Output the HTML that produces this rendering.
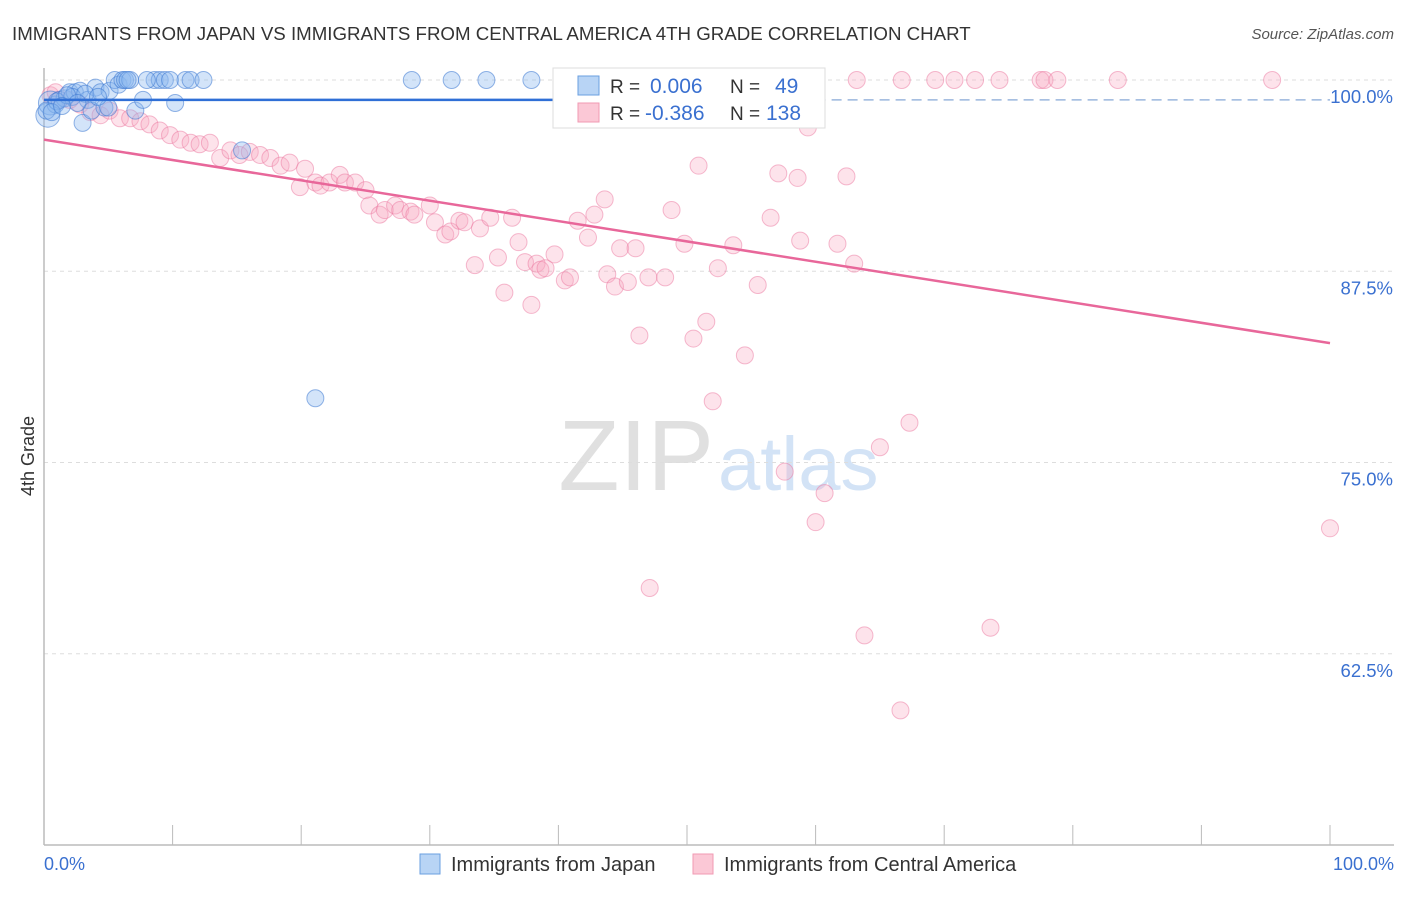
<!DOCTYPE html>
<html><head><meta charset="utf-8">
<style>
body{margin:0;background:#fff;font-family:"Liberation Sans",sans-serif;}
svg text{font-family:"Liberation Sans",sans-serif;}
</style></head>
<body>
<svg width="1406" height="892" xmlns="http://www.w3.org/2000/svg">
<text x="12" y="40" font-size="18.7" fill="#333">IMMIGRANTS FROM JAPAN VS IMMIGRANTS FROM CENTRAL AMERICA 4TH GRADE CORRELATION CHART</text>
<text x="1394" y="39" font-size="15" fill="#555" font-style="italic" text-anchor="end">Source: ZipAtlas.com</text>
<text x="714" y="490" font-size="100" fill="#e0e0e0" text-anchor="end" font-family="Liberation Serif">ZIP</text>
<text x="718" y="490" font-size="76" fill="#d3e3f6">atlas</text>
<g id="grid"></g>
<g id="axes"></g>
<g id="pts"></g>
<g id="lines"></g>
<text x="34" y="456" font-size="18" fill="#333" text-anchor="middle" transform="rotate(-90 34 456)">4th Grade</text>
<g>
<rect x="553" y="68" width="272" height="60" fill="#fff" stroke="#ddd"/>
<rect x="578" y="76" width="21" height="19" fill="#b8d4f5" stroke="#6a9fe0"/>
<rect x="578" y="103" width="21" height="19" fill="#fbc8d6" stroke="#f09ab3"/>
<text x="610" y="93" font-size="19" fill="#333">R =</text>
<text x="650" y="93" font-size="21" fill="#3a70d0">0.006</text>
<text x="730" y="93" font-size="19" fill="#333">N =</text>
<text x="775" y="93" font-size="21" fill="#3a70d0">49</text>
<text x="610" y="120" font-size="19" fill="#333">R =</text>
<text x="645" y="120" font-size="21" fill="#3a70d0">-0.386</text>
<text x="730" y="120" font-size="19" fill="#333">N =</text>
<text x="766" y="120" font-size="21" fill="#3a70d0">138</text>
</g>
<g>
<rect x="420" y="854" width="20" height="20" fill="#b8d4f5" stroke="#6a9fe0"/>
<text x="451" y="871" font-size="20" fill="#333">Immigrants from Japan</text>
<rect x="693" y="854" width="20" height="20" fill="#fbc8d6" stroke="#f09ab3"/>
<text x="724" y="871" font-size="20" fill="#333">Immigrants from Central America</text>
</g>
<script>
const yTicks=[100,87.5,75,62.5];
const yTickLabels=["100.0%","87.5%","75.0%","62.5%"];
const xLabels=["0.0%","100.0%"];
const japanX=[0.3,0.5,0.9,1.2,1.6,2.0,2.4,2.8,3.0,3.4,3.7,4.0,4.4,4.7,5.0,5.1,5.5,5.8,6.1,6.3,6.7,7.1,7.7,8.6,9.0,9.4,9.8,10.2,11.0,11.4,12.4,15.4,21.1,28.6,31.7,34.4,37.9,53.0,0.2,1.0,2.2,1.8,0.6,3.2,4.2,6.5,2.6,1.4,8.0];
const japanY=[97.7,98.5,98.4,98.7,98.8,99.2,99.2,99.3,97.2,98.7,98.0,99.5,99.2,98.2,98.2,99.3,100,99.7,100,100,100,98.0,98.7,100,100,100,100,98.5,100,100,100,95.4,79.2,100,100,100,100,100,98.0,98.6,98.9,99.0,97.9,99.1,98.9,100,98.5,98.3,100];
const caX=[0.5,0.9,1.2,2.0,2.8,3.6,4.4,5.1,5.9,6.7,7.5,8.2,9.0,9.8,10.6,11.4,12.1,12.9,13.7,14.5,15.2,16.0,16.8,17.6,18.4,19.1,19.9,20.3,21.1,21.5,22.2,23.0,23.4,24.2,25.0,25.3,26.1,26.5,27.3,27.7,28.5,28.8,30.0,30.4,31.2,31.6,32.3,32.7,33.5,33.9,34.7,35.3,35.8,36.4,36.9,37.4,37.9,38.3,38.6,39.0,39.7,40.5,40.9,41.5,42.3,42.8,43.6,43.8,44.4,44.8,45.4,46.0,46.3,47.0,47.1,48.3,48.8,49.8,50.5,50.9,51.5,52.0,52.4,53.6,54.5,55.5,56.5,57.1,57.6,58.6,58.8,59.4,60.0,60.7,61.7,62.4,63.0,63.8,65.0,66.6,67.3,73.6,100,47.7,50.2,63.2,66.7,69.3,70.8,72.4,74.3,77.5,77.8,78.8,83.5,95.5];
const caY=[99.0,99.2,98.7,98.7,98.4,97.9,97.7,98.0,97.5,97.5,97.3,97.1,96.7,96.4,96.1,95.9,95.8,95.9,94.9,95.4,95.1,95.3,95.1,94.9,94.4,94.6,93.0,94.2,93.3,93.1,93.3,93.8,93.3,93.3,92.8,91.8,91.2,91.5,91.8,91.5,91.4,91.2,91.8,90.7,89.9,90.1,90.8,90.7,87.9,90.3,91.0,88.4,86.1,91.0,89.4,88.1,85.3,88.0,87.6,87.7,88.6,86.9,87.1,90.8,89.7,91.2,92.2,87.3,86.5,89.0,86.8,89.0,83.3,87.1,66.8,87.1,91.5,89.3,83.1,94.4,84.2,79.0,87.7,89.2,82.0,86.6,91.0,93.9,74.4,93.6,89.5,96.9,71.1,73.0,89.3,93.7,88.0,63.7,76.0,58.8,77.6,64.2,70.7,100,100,100,100,100,100,100,100,100,100,100,100,100];
const japanFit=[98.7,98.7];
const caFit=[96.1,82.8];
const NS="http://www.w3.org/2000/svg";
const X0=44,X1=1330,YT=80,YB=845,VMIN=50,VMAX=100;
function sx(v){return X0+(X1-X0)*v/100;}
function sy(v){return YT+(VMAX-v)/(VMAX-VMIN)*(YB-YT);}
function mk(t,a,p){const e=document.createElementNS(NS,t);for(const k in a)e.setAttribute(k,a[k]);p.appendChild(e);return e;}
const grid=document.getElementById('grid'),axes=document.getElementById('axes'),pts=document.getElementById('pts'),lines=document.getElementById('lines');
yTicks.forEach((v,i)=>{
 const l=mk('line',{x1:X0,x2:1394,y1:sy(v),y2:sy(v),stroke:'#ddd','stroke-dasharray':'4 4'},grid);
 
 
 const t=mk('text',{x:1393,y:sy(v)+23,'font-size':18.5,fill:'#3a70d0','text-anchor':'end'},axes);
 t.textContent=yTickLabels[i];
 
 
});
const ax=mk('line',{x1:X0,x2:1394,y1:YB,y2:YB,stroke:'#bbb','stroke-width':1.5},axes);


const ay=mk('line',{x1:X0,x2:X0,y1:68,y2:YB,stroke:'#bbb','stroke-width':1.5},axes);


for(let i=0;i<=10;i++){
 const tk=mk('line',{x1:sx(i*10),x2:sx(i*10),y1:YB-20,y2:YB,stroke:'#bbb'},axes);
 
 
}
[[0,'start'],[100,'end']].forEach((d,i)=>{
 const t=mk('text',{x:i?1394:44,y:870,'font-size':18,fill:'#3a70d0','text-anchor':d[1]},axes);
 t.textContent=xLabels[i];
 
 
});
caX.forEach((v,i)=>{
 const c=mk('circle',{cx:sx(v),cy:sy(caY[i]),r:8.5,fill:'rgba(248,170,195,0.33)',stroke:'rgba(236,120,160,0.5)','stroke-width':1},pts);
 
 
});
japanX.forEach((v,i)=>{
 const c=mk('circle',{cx:sx(v),cy:sy(japanY[i]),r:i<2?12:8.5,fill:'rgba(140,185,240,0.38)',stroke:'rgba(60,120,210,0.55)','stroke-width':1},pts);
 
 
});
const jl=mk('line',{x1:X0,x2:sx(60),y1:sy(japanFit[0]),y2:sy(japanFit[0]+(japanFit[1]-japanFit[0])*0.6),stroke:'#2f6fd6','stroke-width':2.5},lines);


const jd=mk('line',{x1:sx(60),x2:X1,y1:sy(japanFit[0]+(japanFit[1]-japanFit[0])*0.6),y2:sy(japanFit[1]),stroke:'#9bb6dd','stroke-width':1.5,'stroke-dasharray':'10 6'},lines);


const cl=mk('line',{x1:X0,x2:X1,y1:sy(caFit[0]),y2:sy(caFit[1]),stroke:'#e8679a','stroke-width':2.5},lines);


</script>
</svg>
</body></html>
